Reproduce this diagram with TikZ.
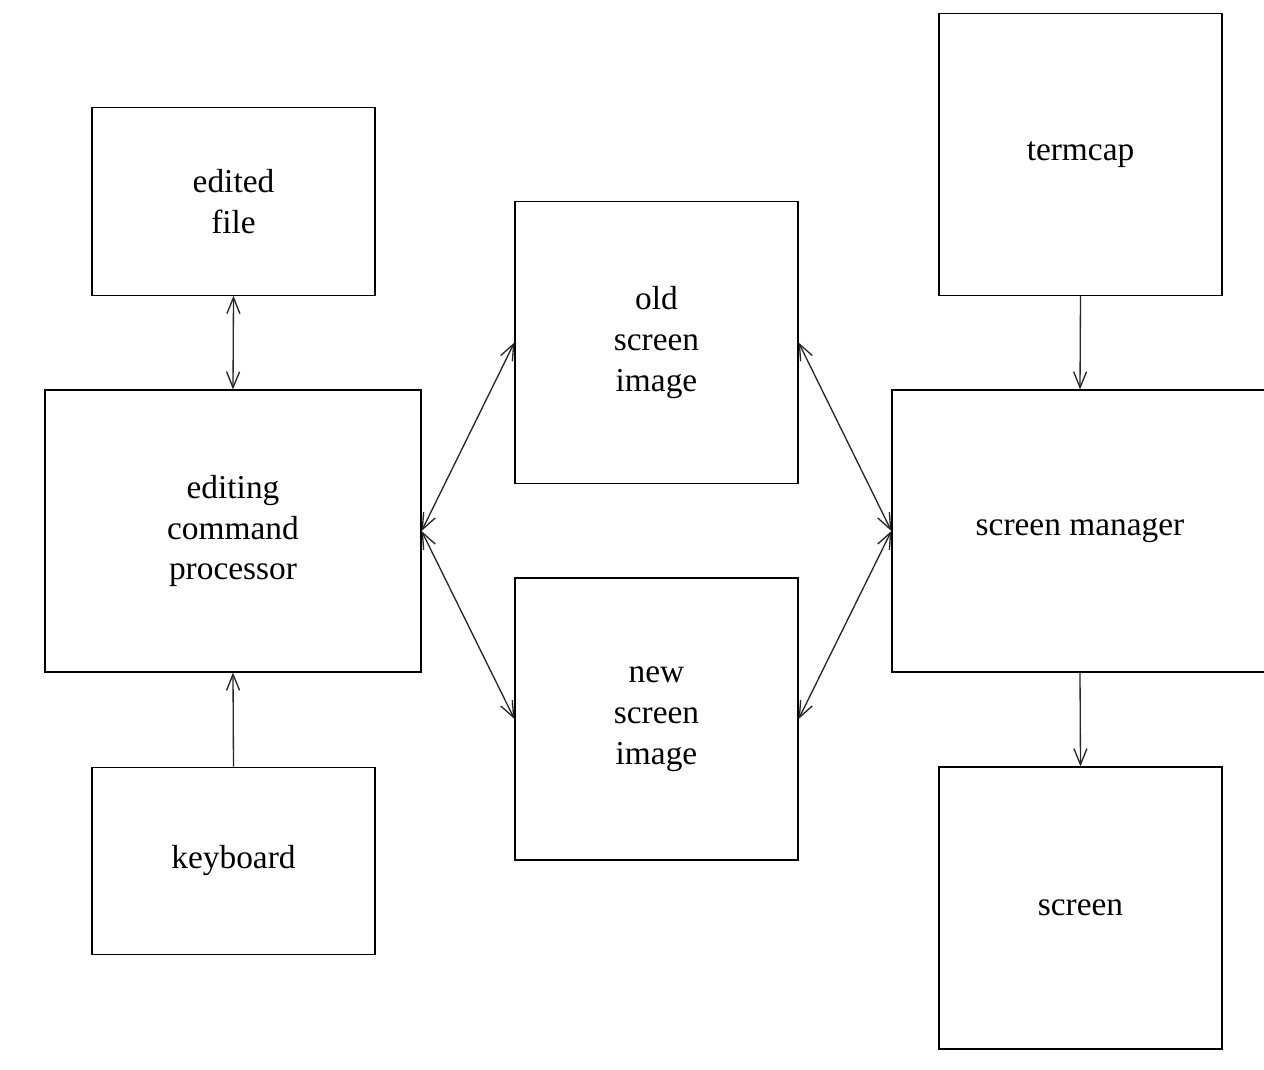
\documentclass[tikz,border=0pt]{standalone}
\usepackage{fontspec}
\setmainfont{Liberation Serif}
\usetikzlibrary{arrows.meta}
\tikzset{
  font=\fontsize{19}{23.3}\selectfont,
  box/.style={
    draw=black, line width=0.7pt, align=center, inner sep=0pt,
    minimum width=5.66cm, minimum height=5.64cm
  },
  smallbox/.style={box, minimum height=3.75cm},
  widebox/.style={box, minimum width=7.52cm},
  flow/.style={-{Straight Barb[length=3.2mm,width=2.6mm]}, draw=black!85, line width=0.75pt},
  twoway/.style={{Straight Barb[length=3.2mm,width=2.6mm]}-{Straight Barb[length=3.2mm,width=2.6mm]}, draw=black!85, line width=0.75pt}
}
\begin{document}
\begin{tikzpicture}[x=1cm,y=1cm]
  \useasboundingbox[fill=white] (0,0) rectangle (25.28,-21.4);

  % left column
  \node[smallbox] (file) at (4.67,-4.03) {edited\\file};
  \node[widebox] (proc) at (4.66,-10.62) {editing\\command\\processor};
  \node[smallbox] (keys) at (4.67,-17.22) {keyboard};

  % middle column
  \node[box] (old) at (13.13,-6.85) {old\\screen\\image};
  \node[box] (new) at (13.13,-14.38) {new\\screen\\image};

  % right column
  \node[box] (termcap) at (21.61,-3.09) {termcap};
  \node[widebox] (manager) at (21.6,-10.62) {screen manager};
  \node[box] (screen) at (21.61,-18.16) {screen};

  \draw[twoway] (file.south) -- (proc.north);
  \draw[flow] (keys.north) -- (proc.south);
  \draw[twoway] (proc.east) -- (old.west);
  \draw[twoway] (proc.east) -- (new.west);
  \draw[twoway] (old.east) -- (manager.west);
  \draw[twoway] (new.east) -- (manager.west);
  \draw[flow] (termcap.south) -- (manager.north);
  \draw[flow] (manager.south) -- (screen.north);
\end{tikzpicture}
\end{document}
